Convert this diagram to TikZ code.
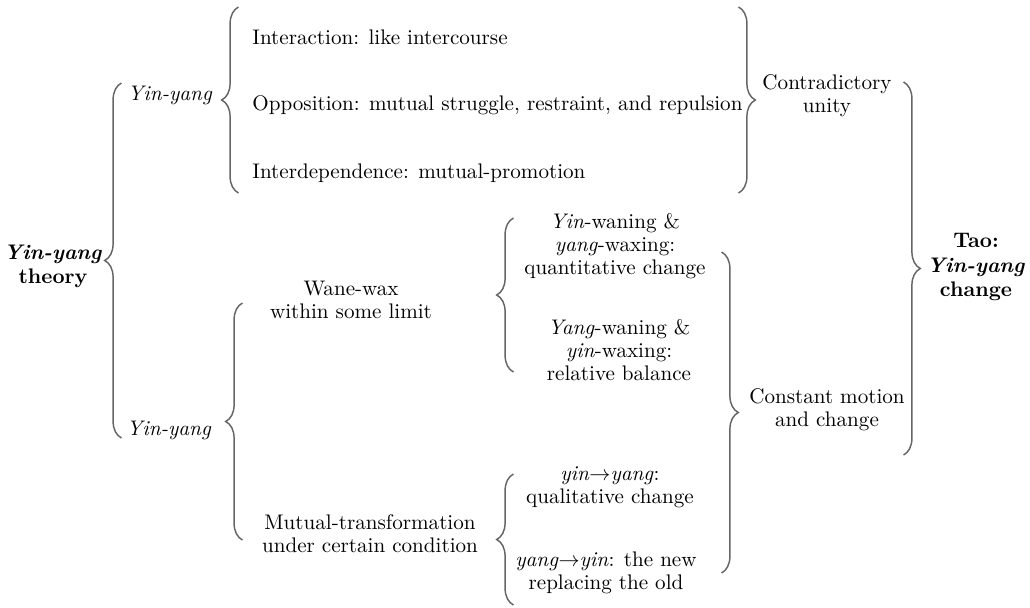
\documentclass[tikz,border=0pt]{standalone}
\usepackage{amsmath,tikz}
\usetikzlibrary{decorations.pathreplacing}

\tikzset{
	txt/.style={align=center, font=\fontsize{10pt}{11pt}\selectfont},
	btxt/.style={align=center, font=\fontsize{10pt}{11.5pt}\selectfont\bfseries},
	brc/.style={draw=black!60, line width=0.7pt, decorate, decoration={brace, amplitude=0.28cm}}
}

\begin{document}
\begin{tikzpicture}[x=0.016667cm, y=-0.016667cm]
		\useasboundingbox (0,0) rectangle (1030,607);

		% left column
		\draw (53,266) node[btxt] (theory) {\textit{Yin-yang}\\theory};
		\draw (170,95) node[txt] (yy1) {\textit{Yin-yang}};
		\draw (169,430) node[txt] (yy2) {\textit{Yin-yang}};

		% upper group
		\draw (245,37) node[txt, anchor=west] (inter) {Interaction: like intercourse};
		\draw (245,105) node[txt, anchor=west] (oppo) {Opposition: mutual struggle, restraint, and repulsion};
		\draw (245,173) node[txt, anchor=west] (dep) {Interdependence: mutual-promotion};
		\draw (827,96) node[txt] (contra) {Contradictory\\unity};

		% lower group
		\draw (351,300) node[txt] (wane) {Wane-wax\\within some limit};
		\draw (370,534) node[txt] (mutual) {Mutual-transformation\\under certain condition};
		\draw (615,246) node[txt] (yinwane) {\textit{Yin}-waning \&\\\textit{yang}-waxing:\\quantitative change};
		\draw (619,350) node[txt] (yangwane) {\textit{Yang}-waning \&\\\textit{yin}-waxing:\\relative balance};
		\draw (610,487) node[txt] (yinyang) {\textit{yin}$\rightarrow$\textit{yang}:\\qualitative change};
		\draw (606,573) node[txt] (yangyin) {\textit{yang}$\rightarrow$\textit{yin}: the new\\replacing the old};
		\draw (827,410) node[txt] (motion) {Constant motion\\and change};

		% right column
		\draw (976,267) node[btxt] (tao) {Tao:\\\textit{Yin-yang}\\change};

		% braces
		\coordinate (thb) at (121.5,438); \coordinate (tht) at (121.5,83);
		\coordinate (upb) at (238.5,193); \coordinate (upt) at (238.5,7);
		\coordinate (lob) at (242.5,540); \coordinate (lot) at (242.5,303);
		\coordinate (wab) at (513.5,372); \coordinate (wat) at (513.5,218);
		\coordinate (trb) at (513.5,605); \coordinate (trt) at (513.5,474);
		\coordinate (cot) at (738.5,7); \coordinate (cob) at (738.5,193);
		\coordinate (mot) at (721.5,252); \coordinate (mob) at (721.5,573);
		\coordinate (tat) at (903.5,82); \coordinate (tab) at (903.5,455);

		\draw[brc] (thb) -- (tht);
		\draw[brc] (upb) -- (upt);
		\draw[brc] (lob) -- (lot);
		\draw[brc] (wab) -- (wat);
		\draw[brc] (trb) -- (trt);
		\draw[brc] (cot) -- (cob);
		\draw[brc] (mot) -- (mob);
		\draw[brc] (tat) -- (tab);
	\end{tikzpicture}
\end{document}
